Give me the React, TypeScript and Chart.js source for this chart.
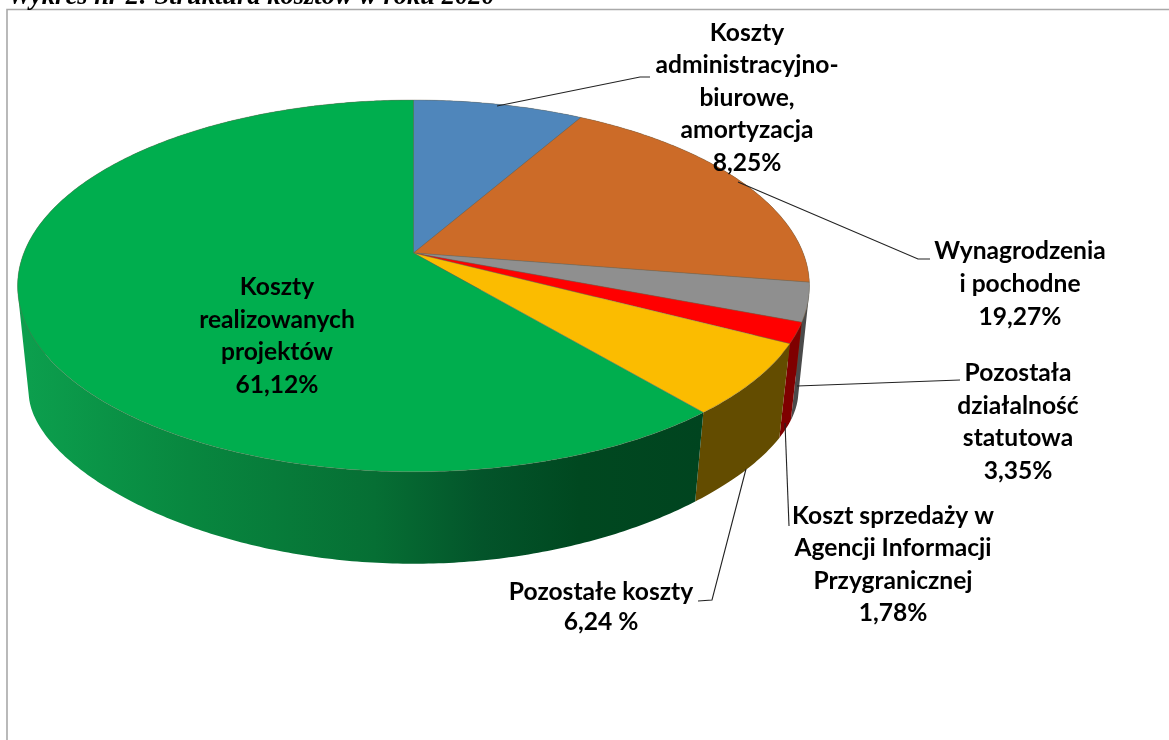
import React, { useEffect, useRef } from "react";
import { Chart, registerables, PieController } from "chart.js";

const sliceNames = [
  "Koszty administracyjno-biurowe, amortyzacja",
  "Wynagrodzenia i pochodne",
  "Pozostała działalność statutowa",
  "Koszt sprzedaży w Agencji Informacji Przygranicznej",
  "Pozostałe koszty",
  "Koszty realizowanych projektów",
];
const sliceValues = [8.25, 19.27, 3.35, 1.78, 6.24, 61.12];
const topColors = ["#4f86bb", "#cc6b28", "#8f8f8f", "#ff0000", "#fbbc00", "#00ae4e"];
const sideColors = ["#2f5a85", "#8a4618", "#4a4a4a", "#7f0000", "#634c00", "#00441f"];
const titleText = "Wykres nr 2: Struktura kosztów w roku 2020";

const labelLines = [
  ["Koszty", "administracyjno-", "biurowe,", "amortyzacja", "8,25%"],
  ["Wynagrodzenia", "i pochodne", "19,27%"],
  ["Pozostała", "działalność", "statutowa", "3,35%"],
  ["Koszt sprzedaży w", "Agencji Informacji", "Przygranicznej", "1,78%"],
  ["Pozostałe koszty", "6,24 %"],
  ["Koszty", "realizowanych", "projektów", "61,12%"],
];

// Layout of the labels and their leader lines (canvas pixels).
const labelCenters = [
  { x: 747, y: 33, step: 32.5 },
  { x: 1020, y: 251, step: 33 },
  { x: 1018, y: 373, step: 32.7 },
  { x: 893, y: 516, step: 32.5 },
  { x: 601, y: 592, step: 30 },
  { x: 277, y: 287, step: 32.7 },
];
const leaderPaths = [
  [[497, 106], [640, 77], [650, 77]],
  [[738, 182], [918, 259], [930, 259]],
  [[797, 386], [960, 380]],
  [[785, 423], [789, 526]],
  [[746, 469], [712, 600], [698, 601]],
];

// Perspective of the tilted disc.
const TILT = 0.177;
const APEX_LIFT = 33;
const X_STRETCH = 2.095;
const Y_STRETCH = 0.968;
const SIDE_X_SCALE = 0.972;
const SIDE_BOTTOM_SHIFT = 92;
const SIDE_Y_LINEAR = 1.1096;
const SIDE_Y_CURVE = -0.000994;

class Pie3DController extends (PieController as any) {
  static id = "pie3d";
  static defaults = PieController.defaults;
  static overrides = PieController.overrides;

  draw() {
    const chart = (this as any).chart;
    const ctx: CanvasRenderingContext2D = chart.ctx;
    const area = chart.chartArea;
    const arcs = (this as any)._cachedMeta.data;
    const cx = (area.left + area.right) / 2;
    const cy = (area.top + area.bottom) / 2;
    const r = Math.min(area.right - area.left, area.bottom - area.top) / 2;
    const ax = cx;
    const ay = cy - APEX_LIFT;
    const project = (a: number) => {
      const u = Math.cos(a);
      const v = Math.sin(a);
      const w = 1 - TILT * v;
      return { x: ax + (r * X_STRETCH * u) / w, y: ay + (r * Y_STRETCH * v) / w };
    };
    const frontY = ay + (r * Y_STRETCH) / (1 - TILT);
    const lower = (p: { x: number; y: number }) => {
      const d = frontY - p.y;
      return {
        x: cx + (p.x - cx) * SIDE_X_SCALE,
        y: frontY + SIDE_BOTTOM_SHIFT - (SIDE_Y_LINEAR * d + SIDE_Y_CURVE * d * d),
      };
    };
    const sample = (arc: any) => {
      const pts = [];
      const n = Math.max(8, Math.ceil((arc.endAngle - arc.startAngle) * 90));
      for (let i = 0; i <= n; i++) {
        pts.push(project(arc.startAngle + ((arc.endAngle - arc.startAngle) * i) / n));
      }
      return pts;
    };

    ctx.save();
    // Walls first
    arcs.forEach((arc: any, i: number) => {
      const pts = sample(arc);
      if (i === arcs.length - 1) {
        const g = ctx.createLinearGradient(18, 0, 703, 0);
        g.addColorStop(0, "#0ca04e");
        g.addColorStop(0.25, "#08873f");
        g.addColorStop(0.52, "#066f34");
        g.addColorStop(0.68, "#03542a");
        g.addColorStop(0.82, "#004820");
        g.addColorStop(1, sideColors[i]);
        ctx.fillStyle = g;
      } else {
        ctx.fillStyle = sideColors[i];
      }
      // One path of equally wound quads: their union has no seams and no fold gap.
      ctx.beginPath();
      for (let j = 0; j < pts.length - 1; j++) {
        const quad = [pts[j], pts[j + 1], lower(pts[j + 1]), lower(pts[j])];
        let area2 = 0;
        quad.forEach((p, k) => {
          const q = quad[(k + 1) % 4];
          area2 += p.x * q.y - q.x * p.y;
        });
        if (area2 < 0) quad.reverse();
        quad.forEach((p, k) => (k ? ctx.lineTo(p.x, p.y) : ctx.moveTo(p.x, p.y)));
        ctx.closePath();
      }
      ctx.fill("nonzero");
    });
    // Top faces
    arcs.forEach((arc: any) => {
      const pts = sample(arc);
      ctx.beginPath();
      ctx.moveTo(ax, ay);
      pts.forEach((p: any) => ctx.lineTo(p.x, p.y));
      ctx.closePath();
      ctx.fillStyle = arc.options.backgroundColor;
      ctx.fill();
      ctx.lineWidth = arc.options.borderWidth;
      ctx.strokeStyle = arc.options.borderColor;
      ctx.stroke();
    });
    ctx.restore();
  }
}

const decorations = {
  id: "decorations",
  beforeDraw(chart: any) {
    const ctx: CanvasRenderingContext2D = chart.ctx;
    ctx.save();
    ctx.fillStyle = "#ffffff";
    ctx.fillRect(0, 0, chart.width, chart.height);
    ctx.strokeStyle = "#a9a9a9";
    ctx.lineWidth = 1.6;
    ctx.beginPath();
    ctx.moveTo(7, chart.height + 2);
    ctx.lineTo(7, 9.5);
    ctx.lineTo(chart.width + 2, 9.5);
    ctx.stroke();
    ctx.fillStyle = "#000";
    ctx.textAlign = "left";
    ctx.textBaseline = "alphabetic";
    ctx.font = 'italic bold 26.5px "Liberation Serif"';
    ctx.fillText(titleText, 8, 4);
    ctx.restore();
  },
  afterDraw(chart: any) {
    const ctx: CanvasRenderingContext2D = chart.ctx;
    ctx.save();
    ctx.strokeStyle = "#222";
    ctx.lineWidth = 1.1;
    leaderPaths.forEach((path) => {
      ctx.beginPath();
      path.forEach(([x, y], j) => (j ? ctx.lineTo(x, y) : ctx.moveTo(x, y)));
      ctx.stroke();
    });
    ctx.fillStyle = "#000";
    ctx.textAlign = "center";
    ctx.textBaseline = "middle";
    ctx.font = "bold 24.6px Lato";
    labelLines.forEach((lines, i) => {
      const c = labelCenters[i];
      lines.forEach((line, j) => ctx.fillText(line, c.x, c.y + j * c.step));
    });
    ctx.restore();
  },
};

Chart.register(...registerables, Pie3DController as any);

export default function App() {
  const ref = useRef<HTMLCanvasElement>(null);
  useEffect(() => {
    document.body.style.margin = "0";
    const chart = new Chart(ref.current!, {
      type: "pie3d" as any,
      data: {
        labels: sliceNames,
        datasets: [
          {
            data: sliceValues,
            backgroundColor: topColors,
            borderColor: "rgba(110,100,80,0.5)",
            borderWidth: 0.75,
          },
        ],
      },
      options: {
        animation: false,
        responsive: false,
        layout: { padding: { left: 18, right: 360, top: 100, bottom: 268 } },
        plugins: { legend: { display: false }, tooltip: { enabled: false } },
      },
      plugins: [decorations],
    } as any);
    return () => chart.destroy();
  }, []);
  return (
    <canvas
      ref={ref}
      width={1169}
      height={740}
      style={{ position: "fixed", left: 0, top: 0, width: 1169, height: 740, display: "block" }}
    />
  );
}
